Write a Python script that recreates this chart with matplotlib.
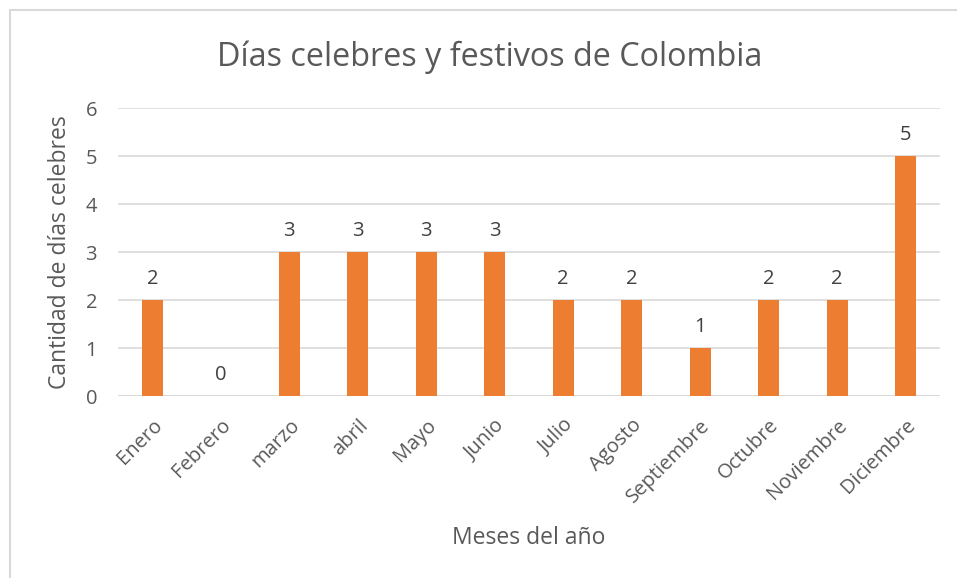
import matplotlib
matplotlib.use("Agg")
import matplotlib.pyplot as plt
from matplotlib.patches import Rectangle

meses = ["Enero", "Febrero", "marzo", "abril", "Mayo", "Junio", "Julio",
         "Agosto", "Septiembre", "Octubre", "Noviembre", "Diciembre"]
dias = [2, 0, 3, 3, 3, 3, 2, 2, 1, 2, 2, 5]

plt.rcParams['font.family'] = ['Open Sans', 'DejaVu Sans']
gris = '#595959'

fig = plt.figure(figsize=(9.57, 5.78), dpi=100)
ax = fig.add_axes([118 / 957, 1 - 396 / 578, (940 - 118) / 957, (396 - 108) / 578])

x = range(len(meses))
bars = ax.bar(x, dias, width=0.31, color='#ED7D31', zorder=3)
for xi, v in zip(x, dias):
    ax.text(xi, v + 0.22, str(v), ha='center', va='bottom', fontsize=14.5, color='#404040')

ax.set_xlim(-0.5, len(meses) - 0.5)
ax.set_ylim(0, 6)
ax.set_yticks(range(0, 7))
ax.yaxis.grid(True, color='#d9d9d9', linewidth=1.2, zorder=0)
for s in ax.spines.values():
    s.set_visible(False)
ax.axhline(0, color='#d9d9d9', linewidth=1.2, zorder=2)
ax.tick_params(axis='both', length=0, labelsize=14.5, colors=gris)
ax.tick_params(axis='y', pad=15)
ax.set_xticks(list(x))
ax.set_xticklabels(meses, rotation=45, ha='right', rotation_mode='anchor')
ax.tick_params(axis='x', pad=14)

ax.set_xlabel('Meses del año', fontsize=16.5, color=gris, labelpad=14)
ax.set_ylabel('Cantidad de días celebres', fontsize=16.5, color=gris, labelpad=10)
fig.text(490 / 957, 1 - 57 / 578, 'Días celebres y festivos de Colombia',
         ha='center', va='center', fontsize=23.3, color=gris)

fig.patches.append(Rectangle((10 / 957, -0.1), 1.1, 1 - 10 / 578 + 0.1,
                             transform=fig.transFigure, fill=False,
                             edgecolor='#d9d9d9', linewidth=1.5))

fig.savefig('out.png', dpi=100)
